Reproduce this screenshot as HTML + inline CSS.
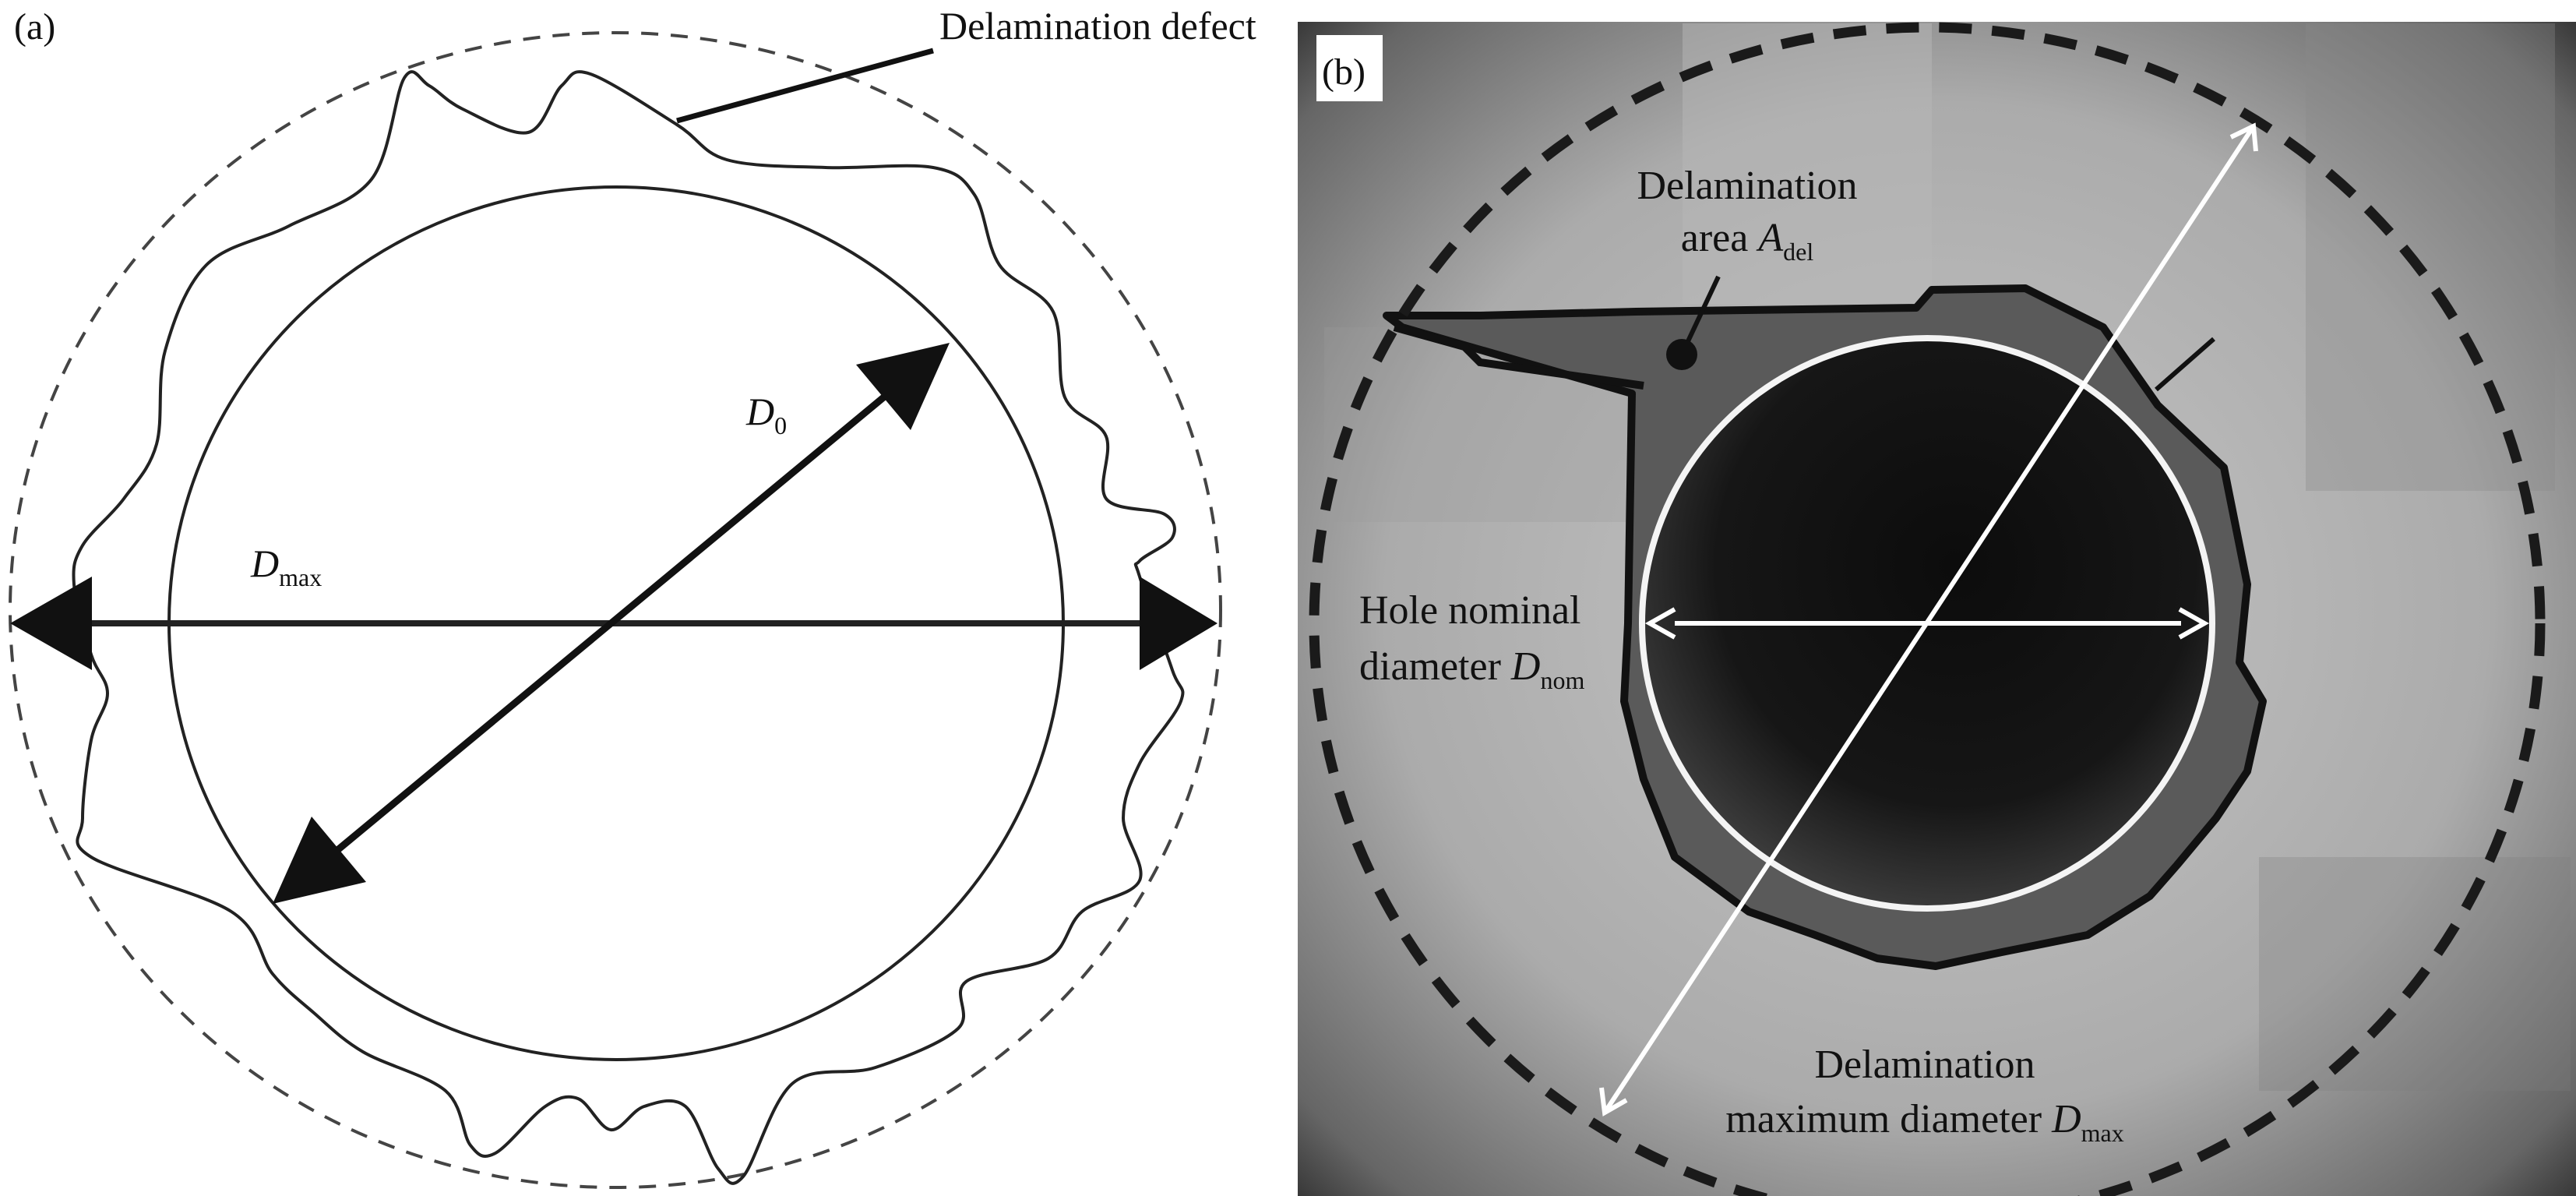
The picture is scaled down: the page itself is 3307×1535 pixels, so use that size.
<!DOCTYPE html>
<html><head><meta charset="utf-8"><style>
html,body{margin:0;padding:0;background:#fff;}
svg{display:block;}
text{font-family:"Liberation Serif",serif;fill:#111;}
</style></head><body>
<svg width="3307" height="1535" viewBox="0 0 3307 1535" xmlns="http://www.w3.org/2000/svg">
<defs>
<radialGradient id="vig" cx="0.5" cy="0.5" r="0.72">
<stop offset="0" stop-color="#c6c6c6"/>
<stop offset="0.6" stop-color="#ababab"/>
<stop offset="0.9" stop-color="#666"/>
<stop offset="1" stop-color="#2e2e2e"/>
</radialGradient>
<radialGradient id="hole" cx="0.55" cy="0.4" r="0.6">
<stop offset="0" stop-color="#0c0c0c"/>
<stop offset="0.7" stop-color="#161616"/>
<stop offset="1" stop-color="#3a3a3a"/>
</radialGradient>
</defs>
<rect width="3307" height="1535" fill="#fff"/>
<!-- Left panel -->
<ellipse cx="790" cy="783" rx="777" ry="741" fill="none" stroke="#444" stroke-width="4" stroke-dasharray="22,16"/>
<path id="wavy" fill="none" stroke="#222" stroke-width="4" stroke-linejoin="round" d="M758,95 L869,160 L933,205 L1060,215 L1198,215 L1251,250 L1283,340 L1352,400 L1367,510 L1420,560 L1420,640 L1495,660 L1505,690 L1463,720 L1463,740 L1505,860 L1516,900 L1463,980 L1442,1050 L1463,1130 L1389,1170 L1346,1230 L1240,1260 L1230,1320 L1124,1370 L1018,1390 L954,1510 L922,1500 L880,1420 L827,1420 L784,1450 L742,1410 L700,1420 L636,1480 L604,1470 L572,1400 L466,1350 L403,1300 L350,1250 L297,1170 L117,1100 L106,1050 L117,950 L138,890 L117,840 L95,750 L106,700 L159,640 L201,570 L212,450 L265,340 L371,290 L477,230 L519,100 L551,110 L594,140 L678,170 L721,110 Z"/>
<ellipse cx="791" cy="800" rx="574" ry="560" fill="none" stroke="#222" stroke-width="4"/>
<line x1="60" y1="800" x2="1520" y2="800" stroke="#222" stroke-width="8"/>
<polygon points="13,800 118,740 118,860" fill="#111"/>
<polygon points="1563,800 1463,740 1463,860" fill="#111"/>
<line x1="420" y1="1102" x2="1150" y2="497" stroke="#111" stroke-width="9"/>
<polygon points="1219,440 1169,552 1099,468" fill="#111"/>
<polygon points="350,1160 470,1132 400,1048" fill="#111"/>
<line x1="869" y1="155" x2="1198" y2="65" stroke="#111" stroke-width="7"/>
<text x="18" y="50" font-size="48">(a)</text>
<text x="1206" y="50" font-size="50">Delamination defect</text>
<text x="958" y="545" font-size="50" font-style="italic">D<tspan font-size="32" font-style="normal" dy="12">0</tspan></text>
<text x="322" y="740" font-size="50" font-style="italic">D<tspan font-size="32" font-style="normal" dy="12">max</tspan></text>

<!-- Right panel -->
<rect x="1666" y="28" width="1641" height="1507" fill="url(#vig)"/>
<rect x="2160" y="30" width="320" height="360" fill="#b8b8b8" opacity="0.5"/>
<rect x="2960" y="30" width="320" height="600" fill="#8a8a8a" opacity="0.35"/>
<rect x="1700" y="420" width="430" height="250" fill="#9a9a9a" opacity="0.3"/>
<rect x="2900" y="1100" width="400" height="300" fill="#7d7d7d" opacity="0.3"/>
<path d="M2090,800 L2095,505 L1800,420 L1780,405 L1900,405 L2100,400 L2460,395 L2480,372 L2600,370 L2700,420 L2770,520 L2855,600 L2865,650 L2885,750 L2875,850 L2905,900 L2885,990 L2845,1050 L2795,1110 L2760,1150 L2680,1200 L2570,1222 L2485,1240 L2410,1230 L2330,1200 L2245,1170 L2150,1100 L2110,1000 L2085,900 Z" fill="#5a5a5a" stroke="#111" stroke-width="10" stroke-linejoin="round"/>
<path d="M1790,420 L1880,445 L1900,465 L2110,495" fill="none" stroke="#111" stroke-width="10"/>
<circle cx="2474" cy="800" r="366" fill="url(#hole)"/>
<circle cx="2474" cy="800" r="366" fill="none" stroke="#f4f4f4" stroke-width="8"/>
<ellipse cx="2474" cy="800" rx="787" ry="765" fill="none" stroke="#1a1a1a" stroke-width="13" stroke-dasharray="42,26"/>
<line x1="2150" y1="800" x2="2800" y2="800" stroke="#fff" stroke-width="6"/>
<polyline points="2150,782 2118,800 2150,818" fill="none" stroke="#fff" stroke-width="6"/>
<polyline points="2798,782 2830,800 2798,818" fill="none" stroke="#fff" stroke-width="6"/>
<line x1="2060" y1="1428" x2="2893" y2="162" stroke="#fff" stroke-width="6"/>
<polyline points="2056,1396 2060,1428 2088,1412" fill="none" stroke="#fff" stroke-width="6"/>
<polyline points="2864,176 2893,162 2896,194" fill="none" stroke="#fff" stroke-width="6"/>
<line x1="2768" y1="500" x2="2842" y2="435" stroke="#111" stroke-width="6"/>
<line x1="2159" y1="455" x2="2206" y2="355" stroke="#111" stroke-width="6"/>
<circle cx="2159" cy="455" r="20" fill="#111"/>
<rect x="1690" y="45" width="85" height="85" fill="#fff"/>
<text x="1697" y="108" font-size="48">(b)</text>
<text x="2243" y="255" font-size="52" text-anchor="middle">Delamination</text>
<text x="2243" y="322" font-size="52" text-anchor="middle">area <tspan font-style="italic">A</tspan><tspan font-size="32" dy="12">del</tspan></text>
<text x="1745" y="800" font-size="52">Hole nominal</text>
<text x="1745" y="872" font-size="52">diameter <tspan font-style="italic">D</tspan><tspan font-size="32" dy="12">nom</tspan></text>
<text x="2471" y="1383" font-size="52" text-anchor="middle">Delamination</text>
<text x="2471" y="1453" font-size="52" text-anchor="middle">maximum diameter <tspan font-style="italic">D</tspan><tspan font-size="32" dy="12">max</tspan></text>
</svg>
<script>
(function(){
var el=document.getElementById('wavy');
var d=el.getAttribute('d');
var nums=d.match(/-?\d+(\.\d+)?/g).map(Number);
var p=[];for(var i=0;i<nums.length;i+=2)p.push([nums[i],nums[i+1]]);
var n=p.length,s='M'+p[0][0]+','+p[0][1];
for(var i=0;i<n;i++){
var p0=p[(i-1+n)%n],p1=p[i],p2=p[(i+1)%n],p3=p[(i+2)%n];
var c1x=p1[0]+(p2[0]-p0[0])/6,c1y=p1[1]+(p2[1]-p0[1])/6;
var c2x=p2[0]-(p3[0]-p1[0])/6,c2y=p2[1]-(p3[1]-p1[1])/6;
s+=' C'+c1x.toFixed(1)+','+c1y.toFixed(1)+' '+c2x.toFixed(1)+','+c2y.toFixed(1)+' '+p2[0]+','+p2[1];
}
el.setAttribute('d',s+'Z');
})();
</script>
</body></html>
